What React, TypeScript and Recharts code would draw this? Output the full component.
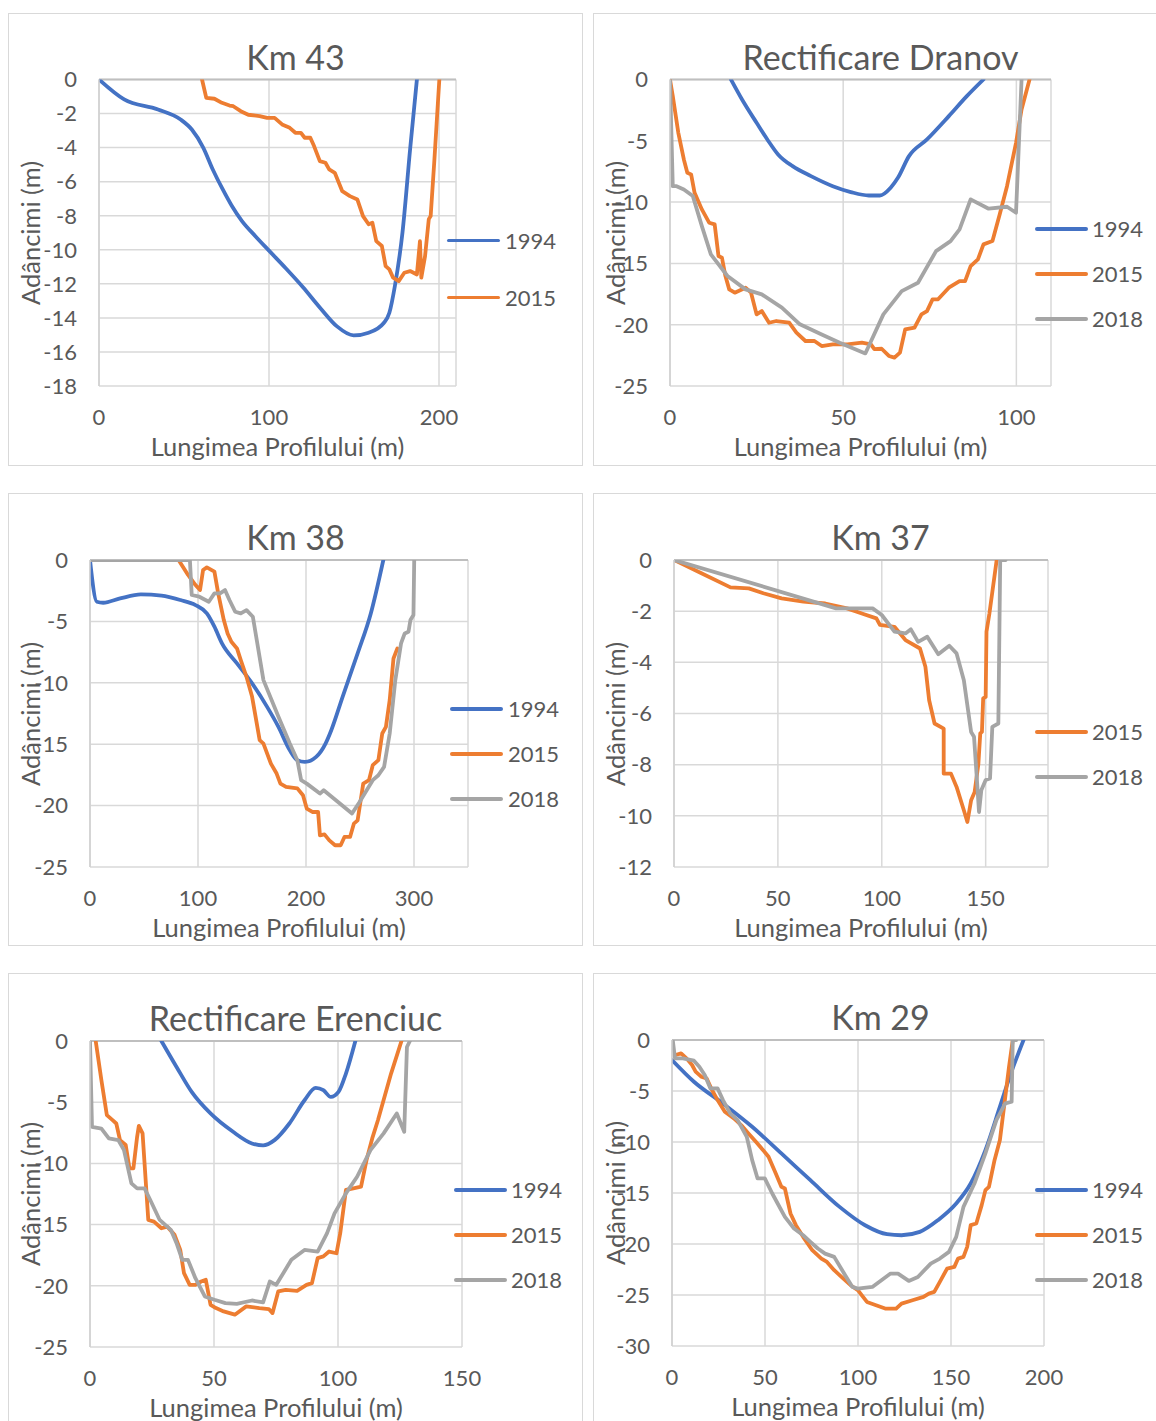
import React from 'react';
import { LineChart, Line, XAxis, YAxis, CartesianGrid, ReferenceLine } from 'recharts';

type Pt = [number, number];

const FONT = "Lato, 'Open Sans', sans-serif";
const TEXT = '#595959';
const C1994 = '#4472C4';
const C2015 = '#ED7D31';
const C2018 = '#A5A5A5';

// ---------- Km 43 ----------
const km43_1994: Pt[] = [[0,0],[14.8,-1.17],[34.7,-1.76],[48,-2.35],[54.6,-2.94],[61.3,-4.0],[67,-5.3],[72.5,-6.4],[78,-7.4],[84,-8.3],[92,-9.2],[100,-10.05],[110,-11.1],[120,-12.2],[130,-13.4],[140,-14.5],[149.8,-15.03],[158.6,-14.87],[167.5,-14.3],[170.8,-13.7],[174.1,-12.1],[178.5,-9.0],[183,-4.1],[187,0]];
const km43_2015: Pt[] = [[60.6,0],[63.1,-1.08],[67.9,-1.13],[72.3,-1.37],[76.8,-1.53],[79,-1.57],[83.4,-1.86],[87.8,-2.07],[94.5,-2.15],[98.9,-2.25],[103.3,-2.25],[107.7,-2.64],[112.2,-2.84],[115.5,-3.13],[118.8,-3.13],[121,-3.42],[124.3,-3.42],[126.5,-3.91],[129.9,-4.79],[133.2,-4.89],[135.4,-5.28],[138.7,-5.48],[143.1,-6.56],[147.6,-6.85],[152,-7.05],[155.3,-8.02],[158.6,-8.5],[160.8,-8.41],[163.1,-9.49],[166.4,-9.78],[168.6,-10.96],[170.8,-11.15],[173,-11.64],[176.3,-11.84],[179.6,-11.35],[183,-11.25],[187,-11.45],[188.8,-9.5],[189.6,-11.64],[191.8,-10.37],[194,-8.2],[195.1,-8.02],[197.3,-4.7],[200.2,0]];

// ---------- Rectificare Dranov ----------
const dranov_1994: Pt[] = [[17.6,0],[20.8,-1.63],[25,-3.53],[28.1,-4.89],[31.2,-6.11],[35.4,-7.07],[40.7,-7.88],[47,-8.7],[52.2,-9.18],[57.4,-9.46],[60.6,-9.46],[63.7,-8.83],[65.8,-8.02],[69,-6.25],[74.2,-4.89],[80.5,-2.99],[85.7,-1.36],[90.5,0]];
const dranov_2015: Pt[] = [[0,0],[0.8,-1.36],[2.4,-4.35],[4,-6.52],[5,-7.61],[6.1,-7.74],[7.1,-9.24],[9.2,-10.6],[11.3,-11.68],[12.9,-11.82],[14,-14.4],[15,-14.54],[16,-16.03],[17.1,-17.12],[18.7,-17.39],[21.8,-16.98],[23.4,-17.39],[25,-19.16],[26.5,-18.89],[28.6,-19.84],[30.7,-19.7],[34.4,-19.84],[36.5,-20.65],[39.1,-21.33],[41.7,-21.33],[43.8,-21.74],[47,-21.6],[51.2,-21.6],[55.4,-21.47],[58,-21.6],[59,-22.0],[61.1,-21.96],[63.2,-22.55],[64.8,-22.69],[66.4,-22.28],[67.9,-20.38],[70.6,-20.24],[72.6,-19.16],[74.2,-18.89],[75.8,-17.93],[77.4,-17.93],[80.5,-16.98],[83.6,-16.44],[85.2,-16.44],[86.8,-15.22],[88.9,-14.67],[90.5,-13.45],[93.1,-13.18],[95.2,-11.0],[97.3,-8.7],[99.9,-5.16],[101.5,-2.45],[103.8,0]];
const dranov_2018: Pt[] = [[0,0],[0.8,-8.7],[1.9,-8.7],[4,-8.97],[6.6,-9.51],[9.2,-11.96],[11.8,-14.27],[16.6,-16.03],[21.8,-17.12],[26.5,-17.53],[32.3,-18.6],[37.5,-19.97],[43.8,-20.8],[49,-21.47],[56.4,-22.34],[57.4,-21.74],[61.6,-19.16],[66.9,-17.26],[71.6,-16.58],[76.8,-14.0],[81,-13.18],[83.6,-12.23],[86.8,-9.78],[92,-10.54],[97.3,-10.38],[99.9,-10.87],[101.5,0]];

// ---------- Km 38 ----------
const km38_1994: Pt[] = [[0,0],[6.3,-3.4],[12.2,-3.48],[27.9,-3.13],[47.1,-2.8],[66.3,-2.9],[83.8,-3.26],[97.7,-3.67],[108.2,-4.35],[115.2,-5.43],[122.2,-6.79],[136.1,-8.42],[150.1,-10.05],[164,-11.96],[174.5,-13.59],[185,-15.49],[192,-16.3],[198.9,-16.44],[209.4,-16.03],[218.1,-14.95],[223.4,-13.86],[233.9,-11.14],[247.8,-7.61],[260,-4.35],[271.6,0]];
const km38_2015: Pt[] = [[82,0],[90.8,-1.22],[97.7,-2.04],[101.9,-2.45],[104.7,-0.82],[108.2,-0.6],[115.2,-0.95],[118.7,-2.72],[123.9,-4.89],[127.4,-5.98],[130.9,-6.66],[136.1,-7.2],[139.6,-8.15],[144.9,-9.51],[150.1,-11.14],[157.1,-14.67],[160.6,-14.95],[167.5,-16.58],[172.8,-17.39],[176.3,-18.21],[181.5,-18.48],[192,-18.6],[197.2,-19.16],[200.7,-20.24],[205.9,-20.52],[211.2,-20.52],[212.9,-22.42],[217.1,-22.34],[221.6,-22.83],[226.9,-23.23],[232.1,-23.23],[235.6,-22.55],[240.8,-22.55],[244.3,-21.47],[247.8,-21.2],[253,-18.21],[258.3,-17.93],[261.8,-16.71],[267,-16.3],[270.6,-14.13],[274,-13.59],[277.5,-11.41],[281,-8.02],[284.6,-7.2]];
const km38_2018: Pt[] = [[0,0],[92.5,0],[94.2,-2.85],[101.2,-2.99],[110,-3.4],[115.2,-2.72],[120.4,-2.72],[125,-2.45],[129.1,-3.26],[134.4,-4.21],[139.6,-4.35],[144.9,-4.08],[150.8,-4.62],[160.6,-9.78],[174.5,-12.77],[185,-14.95],[192,-16.3],[195.5,-17.93],[200.7,-18.21],[212.9,-19.02],[216.4,-18.75],[242.6,-20.65],[249.6,-19.7],[261.8,-17.93],[267,-17.53],[272.3,-16.85],[277.5,-14.13],[282.7,-9.78],[288,-6.79],[291.4,-5.98],[294.9,-5.84],[296.7,-4.89],[299.5,-4.48],[300.2,0]];

// ---------- Km 37 ----------
const km37_2015: Pt[] = [[0,0],[13.2,-0.52],[27.2,-1.07],[36,-1.11],[43,-1.3],[51.8,-1.5],[62.3,-1.63],[72.8,-1.7],[83.3,-1.89],[90.4,-2.09],[97.4,-2.28],[99.1,-2.54],[106.1,-2.61],[111.4,-3.13],[118.4,-3.46],[121,-4.17],[122.8,-5.48],[125.4,-6.39],[129.8,-6.59],[129.8,-8.35],[133.3,-8.35],[136,-8.87],[139.5,-9.78],[141.2,-10.24],[143,-9.39],[144.7,-9.07],[146.5,-7.96],[147.4,-6.78],[148.2,-6.72],[148.8,-5.41],[150,-5.35],[150.4,-2.8],[151.8,-2.09],[155.3,0]];
const km37_2018: Pt[] = [[0,0],[78,-1.89],[95.6,-1.89],[100,-2.15],[106.1,-2.8],[111.4,-2.87],[114,-2.71],[117.5,-3.2],[121.9,-3.0],[127.2,-3.68],[132.5,-3.35],[136,-3.65],[139.5,-4.7],[143,-6.72],[144.4,-6.91],[145.6,-8.35],[146.8,-9.85],[147.9,-9.0],[150,-8.6],[152.1,-8.54],[153.2,-6.52],[156.1,-6.39],[157,0],[159.6,0]];

// ---------- Rectificare Erenciuc ----------
const erenciuc_1994: Pt[] = [[28.8,0],[34.9,-2.12],[41,-4.16],[48.6,-5.92],[57.7,-7.42],[65.3,-8.37],[69.8,-8.53],[74.4,-8.1],[80.4,-6.74],[86.5,-4.84],[91,-3.83],[94.1,-4.02],[97.1,-4.57],[100.2,-4.16],[103.2,-2.66],[107,0]];
const erenciuc_2015: Pt[] = [[2.3,0],[4.6,-3.2],[6.8,-6.06],[9.1,-6.47],[10.6,-6.74],[12.1,-8.1],[14.4,-8.5],[15.9,-10.4],[17.5,-10.4],[19,-7.83],[19.7,-6.93],[21.2,-7.55],[23.5,-14.62],[25.8,-14.76],[28.8,-15.3],[31.1,-15.16],[34.1,-15.84],[36.4,-17.07],[37.9,-18.97],[40.2,-19.92],[42.5,-19.92],[44.8,-19.65],[46.7,-19.51],[48.6,-21.55],[50.8,-21.82],[53.9,-22.09],[58.4,-22.36],[63,-21.68],[68.3,-21.82],[72.1,-21.9],[73.6,-22.23],[75.9,-20.46],[78.9,-20.33],[83.5,-20.41],[87.3,-19.92],[89.5,-19.78],[91.8,-17.74],[94.1,-17.6],[96.4,-17.2],[99.4,-17.34],[100.9,-15.7],[103.2,-12.17],[106.2,-12.04],[109.3,-11.9],[111.5,-9.73],[113.8,-7.96],[116.1,-6.47],[121.4,-2.66],[125.6,0]];
const erenciuc_2018: Pt[] = [[0,0],[0.8,-7.01],[4.6,-7.15],[7.6,-7.96],[11.4,-8.1],[13.7,-8.91],[16.7,-11.63],[19,-12.04],[22,-12.04],[24.3,-12.99],[28.1,-14.62],[32.6,-15.43],[34.9,-16.52],[37.2,-17.88],[39.5,-17.88],[42.5,-19.38],[46.3,-20.87],[50.2,-21.14],[54.6,-21.41],[59.2,-21.47],[65.3,-21.2],[69.8,-21.36],[72.5,-19.65],[75.1,-19.92],[81.2,-17.88],[86.5,-17.07],[91.8,-17.2],[95.6,-15.7],[98.6,-14.08],[103.2,-12.45],[107.7,-11.09],[113.1,-8.91],[118.4,-7.55],[123.7,-5.92],[126.7,-7.42],[127.8,-0.49],[129,0]];

// ---------- Km 29 ----------
const km29_1994: Pt[] = [[0,-1.96],[11.8,-4.09],[27.4,-6.22],[43.1,-8.5],[58.8,-11.12],[74.4,-13.74],[90.1,-16.36],[103.8,-18.16],[115.6,-19.04],[123.4,-19.14],[133.2,-18.81],[143,-17.66],[152.8,-16.03],[160.6,-14.07],[168.5,-10.8],[176.3,-6.54],[182.2,-3.27],[189,0]];
const km29_2015: Pt[] = [[1.5,-1.5],[4.9,-1.31],[7.8,-1.8],[10.8,-2.45],[12.7,-3.1],[15.7,-3.6],[18.6,-3.76],[21.5,-4.9],[24.5,-5.89],[28.4,-7.03],[33.3,-7.69],[37.2,-8.34],[41.1,-9.16],[45.1,-9.98],[49,-10.8],[51.9,-11.45],[55.8,-13.08],[58.8,-14.39],[60.7,-14.56],[63.7,-17.01],[66.6,-18.15],[70.5,-19.3],[75.4,-20.61],[80.3,-21.43],[83.3,-21.76],[87.2,-22.57],[91.1,-23.23],[96,-24.04],[99.9,-24.53],[104.8,-25.68],[109.7,-26],[114.6,-26.33],[120.5,-26.33],[123.4,-25.84],[129.3,-25.51],[135.2,-25.19],[138.1,-24.86],[141,-24.7],[144,-23.72],[147.9,-22.41],[151.8,-22.24],[153.8,-21.43],[156.7,-21.26],[158.7,-20.28],[160.6,-18.15],[163.6,-17.99],[166.5,-16.19],[168.5,-14.72],[170.4,-14.39],[173.4,-11.78],[176.3,-9.81],[178.3,-6.87],[181.2,-2.62],[183.2,0]];
const km29_2018: Pt[] = [[0.4,0],[1.6,-1.8],[5.9,-1.8],[11.8,-2.03],[14.7,-2.62],[17.6,-3.43],[20.6,-4.74],[24.5,-4.74],[27.4,-5.89],[31.3,-7.2],[35.3,-7.85],[40.2,-9.49],[43.1,-11.78],[46,-13.57],[49.9,-13.57],[53.9,-15.05],[56.8,-16.03],[60.7,-17.34],[65.6,-18.48],[70.5,-19.14],[74.4,-19.79],[78.4,-20.44],[82.3,-20.94],[87.2,-21.26],[93.1,-23.06],[97,-24.21],[99.9,-24.37],[107.7,-24.21],[112.6,-23.55],[117.5,-22.9],[121.5,-22.9],[127.3,-23.62],[132.2,-23.23],[139.1,-21.92],[144,-21.43],[148.9,-20.77],[152.8,-19.3],[156.7,-16.36],[162.6,-14.07],[168.5,-11.12],[174.4,-7.85],[179.2,-6.22],[182.6,-6.05],[183.2,0],[185.1,0]];

// tick labels
const ticksY18 = [0, -2, -4, -6, -8, -10, -12, -14, -16, -18];
const ticksY25 = [0, -5, -10, -15, -20, -25];
const ticksY12 = [0, -2, -4, -6, -8, -10, -12];
const ticksY30 = [0, -5, -10, -15, -20, -25, -30];
const ticksX200 = [0, 100, 200];
const ticksX100 = [0, 50, 100];
const ticksX300 = [0, 100, 200, 300];
const ticksX150 = [0, 50, 100, 150];
const ticksX200b = [0, 50, 100, 150, 200];

const toData = (pts: Pt[]) => pts.map(([x, y]) => ({ x, y }));

type Series = { name: string; color: string; pts: Pt[]; smooth?: boolean };
type Cfg = {
  title: string;
  box: { x: number; y: number; w: number; h: number };
  plot: { l: number; r: number; t: number; b: number };
  xDomain: [number, number];
  xTicks: number[];
  yDomain: [number, number];
  yTicks: number[];
  series: Series[];
  legend: { lx: number; tx: number; ys: number[] };
};

const panels: Cfg[] = [
  {
    title: 'Km 43',
    box: { x: 8, y: 13, w: 575, h: 453 },
    plot: { l: 99, r: 456, t: 79.5, b: 386 },
    xDomain: [0, 210], xTicks: ticksX200, yDomain: [-18, 0], yTicks: ticksY18,
    series: [
      { name: '1994', color: C1994, pts: km43_1994, smooth: true },
      { name: '2015', color: C2015, pts: km43_2015 },
    ],
    legend: { lx: 447, tx: 505, ys: [240.5, 297.5] },
  },
  {
    title: 'Rectificare Dranov',
    box: { x: 593, y: 13, w: 575, h: 453 },
    plot: { l: 670, r: 1051, t: 79.5, b: 386 },
    xDomain: [0, 110], xTicks: ticksX100, yDomain: [-25, 0], yTicks: ticksY25,
    series: [
      { name: '1994', color: C1994, pts: dranov_1994, smooth: true },
      { name: '2015', color: C2015, pts: dranov_2015 },
      { name: '2018', color: C2018, pts: dranov_2018 },
    ],
    legend: { lx: 1035, tx: 1092, ys: [229.3, 274.3, 319.3] },
  },
  {
    title: 'Km 38',
    box: { x: 8, y: 493, w: 575, h: 453 },
    plot: { l: 90, r: 468, t: 560, b: 867 },
    xDomain: [0, 350], xTicks: ticksX300, yDomain: [-25, 0], yTicks: ticksY25,
    series: [
      { name: '1994', color: C1994, pts: km38_1994, smooth: true },
      { name: '2015', color: C2015, pts: km38_2015 },
      { name: '2018', color: C2018, pts: km38_2018 },
    ],
    legend: { lx: 450, tx: 508, ys: [709.3, 754.3, 799.3] },
  },
  {
    title: 'Km 37',
    box: { x: 593, y: 493, w: 575, h: 453 },
    plot: { l: 674, r: 1048, t: 560, b: 867 },
    xDomain: [0, 180], xTicks: ticksX150, yDomain: [-12, 0], yTicks: ticksY12,
    series: [
      { name: '2015', color: C2015, pts: km37_2015 },
      { name: '2018', color: C2018, pts: km37_2018 },
    ],
    legend: { lx: 1035, tx: 1092, ys: [732.3, 777.3] },
  },
  {
    title: 'Rectificare Erenciuc',
    box: { x: 8, y: 973, w: 575, h: 453 },
    plot: { l: 90, r: 462, t: 1041, b: 1347 },
    xDomain: [0, 150], xTicks: ticksX150, yDomain: [-25, 0], yTicks: ticksY25,
    series: [
      { name: '1994', color: C1994, pts: erenciuc_1994, smooth: true },
      { name: '2015', color: C2015, pts: erenciuc_2015 },
      { name: '2018', color: C2018, pts: erenciuc_2018 },
    ],
    legend: { lx: 454, tx: 511, ys: [1190, 1235, 1280] },
  },
  {
    title: 'Km 29',
    box: { x: 593, y: 973, w: 575, h: 453 },
    plot: { l: 672, r: 1044, t: 1040, b: 1346 },
    xDomain: [0, 200], xTicks: ticksX200b, yDomain: [-30, 0], yTicks: ticksY30,
    series: [
      { name: '1994', color: C1994, pts: km29_1994, smooth: true },
      { name: '2015', color: C2015, pts: km29_2015 },
      { name: '2018', color: C2018, pts: km29_2018 },
    ],
    legend: { lx: 1035, tx: 1092, ys: [1190, 1235, 1280] },
  },
];

const Y_AXIS_W = 60;
const X_AXIS_H = 30;
const TICK_FS = 22;
const LINE_W = 3.8;

function Panel({ cfg }: { cfg: Cfg }) {
  const { box, plot } = cfg;
  const margin = {
    top: plot.t - box.y,
    left: plot.l - box.x - Y_AXIS_W,
    right: box.x + box.w - plot.r,
    bottom: box.y + box.h - plot.b - X_AXIS_H,
  };
  const tickStyle = { fill: TEXT, fontSize: TICK_FS, fontFamily: FONT };
  const cx = (plot.l + plot.r) / 2;
  const cy = (plot.t + plot.b) / 2;
  return (
    <>
      <div
        style={{
          position: 'absolute', left: box.x, top: box.y, width: box.w, height: box.h,
          border: '1.5px solid #d9d9d9', boxSizing: 'border-box', background: '#fff',
        }}
      />
      <div style={{ position: 'absolute', left: box.x, top: box.y }}>
        <LineChart width={box.w} height={box.h} margin={margin}>
          <CartesianGrid stroke="#d9d9d9" strokeWidth={1.5} />
          <XAxis
            type="number" dataKey="x" domain={cfg.xDomain} ticks={cfg.xTicks} allowDataOverflow
            axisLine={false} tickLine={false} tickSize={0} tickMargin={23} height={X_AXIS_H}
            tick={tickStyle} interval={0}
          />
          <YAxis
            type="number" dataKey="y" domain={cfg.yDomain} ticks={cfg.yTicks} allowDataOverflow
            axisLine={{ stroke: '#d0d0d0', strokeWidth: 1.5 }} tickLine={false} tickSize={0} tickMargin={22}
            width={Y_AXIS_W} tick={tickStyle} interval={0}
          />
          <ReferenceLine y={0} stroke="#bfbfbf" strokeWidth={1.8} />
          {cfg.series.map((s) => (
            <Line
              key={s.name}
              data={toData(s.pts)}
              dataKey="y"
              name={s.name}
              type={s.smooth ? 'monotone' : 'linear'}
              stroke={s.color}
              strokeWidth={LINE_W}
              strokeLinejoin="round"
              strokeLinecap="round"
              dot={false}
              activeDot={false}
              isAnimationActive={false}
            />
          ))}
        </LineChart>
      </div>
      <div
        style={{
          position: 'absolute', left: box.x + box.w / 2, top: plot.t - 23,
          transform: 'translate(-50%, -50%)', whiteSpace: 'nowrap',
          fontFamily: FONT, fontSize: 34, color: TEXT, lineHeight: 1,
        }}
      >
        {cfg.title}
      </div>
      <div
        style={{
          position: 'absolute', left: cx, top: plot.b + 61,
          transform: 'translate(-50%, -50%)', whiteSpace: 'nowrap',
          fontFamily: FONT, fontSize: 25.5, color: TEXT, lineHeight: 1,
        }}
      >
        Lungimea Profilului (m)
      </div>
      <div
        style={{
          position: 'absolute', left: box.x + 23, top: cy,
          transform: 'translate(-50%, -50%) rotate(-90deg)', whiteSpace: 'nowrap',
          fontFamily: FONT, fontSize: 25.5, color: TEXT, lineHeight: 1,
        }}
      >
        Adâncimi (m)
      </div>
      {cfg.series.map((s, i) => (
        <React.Fragment key={s.name}>
          <div
            style={{
              position: 'absolute', left: cfg.legend.lx, top: cfg.legend.ys[i] - LINE_W / 2,
              width: 53, height: LINE_W, background: s.color, borderRadius: 2,
            }}
          />
          <div
            style={{
              position: 'absolute', left: cfg.legend.tx, top: cfg.legend.ys[i],
              transform: 'translateY(-50%)', whiteSpace: 'nowrap',
              fontFamily: FONT, fontSize: TICK_FS, color: TEXT, lineHeight: 1,
            }}
          >
            {s.name}
          </div>
        </React.Fragment>
      ))}
    </>
  );
}

export default function App() {
  return (
    <div
      style={{
        position: 'absolute', left: 0, top: 0, width: 1156, height: 1421,
        overflow: 'hidden', background: '#fff',
      }}
    >
      {panels.map((p) => (
        <Panel key={p.title} cfg={p} />
      ))}
    </div>
  );
}
